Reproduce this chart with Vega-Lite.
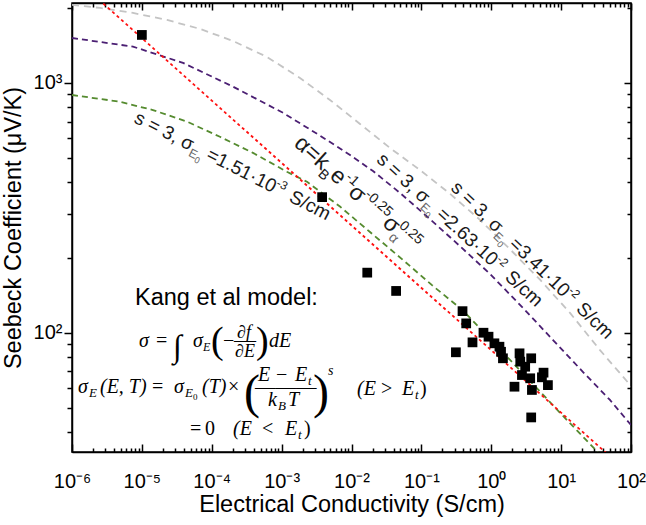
{
  "$schema": "https://vega.github.io/schema/vega-lite/v6.json",
  "width": 559,
  "height": 449,
  "autosize": "none",
  "padding": {"left": 72, "top": 3, "right": 15, "bottom": 73},
  "background": "white",
  "config": {
    "view": {"stroke": "black", "strokeWidth": 1.5},
    "axis": {
      "domainColor": "black", "domainWidth": 1.5, "tickColor": "black", "tickWidth": 1.5,
      "labelFont": "Liberation Sans", "labelFontSize": 20, "labelColor": "black",
      "titleFont": "Liberation Sans", "titleFontSize": 23.5, "titleFontWeight": "normal", "titleColor": "black",
      "grid": false, "labelOverlap": false, "labelFlush": false
    },
    "text": {"font": "Liberation Sans", "color": "black"}
  },
  "datasets": {
    "points": [
      {"sigma": 1.0e-5, "S": 1557}, {"sigma": 0.0038, "S": 349}, {"sigma": 0.0168, "S": 174}, {"sigma": 0.0435, "S": 147},
      {"sigma": 0.388, "S": 122}, {"sigma": 0.438, "S": 109}, {"sigma": 0.539, "S": 91.5}, {"sigma": 0.312, "S": 83.5},
      {"sigma": 0.774, "S": 100}, {"sigma": 0.914, "S": 96.4}, {"sigma": 1.11, "S": 90.7}, {"sigma": 1.31, "S": 87.9},
      {"sigma": 1.38, "S": 83.9}, {"sigma": 1.47, "S": 79.0}, {"sigma": 2.54, "S": 82.7}, {"sigma": 2.60, "S": 76.6},
      {"sigma": 3.73, "S": 79.0}, {"sigma": 3.06, "S": 73.1}, {"sigma": 2.75, "S": 67.7}, {"sigma": 3.61, "S": 65.7},
      {"sigma": 5.60, "S": 69.2}, {"sigma": 5.31, "S": 66.3}, {"sigma": 6.47, "S": 61.7}, {"sigma": 2.15, "S": 60.8},
      {"sigma": 3.82, "S": 59.0}, {"sigma": 3.73, "S": 45.8}
    ],
    "curves": [
      {"curve": "grey", "sigma": 1e-6, "S": 2053}, {"curve": "grey", "sigma": 2.52e-6, "S": 1997}, {"curve": "grey", "sigma": 7.46e-6, "S": 1907},
      {"curve": "grey", "sigma": 2.29e-5, "S": 1788}, {"curve": "grey", "sigma": 6.79e-5, "S": 1646}, {"curve": "grey", "sigma": 2.01e-4, "S": 1473},
      {"curve": "grey", "sigma": 6.18e-4, "S": 1271}, {"curve": "grey", "sigma": 0.00183, "S": 1047}, {"curve": "grey", "sigma": 0.00492, "S": 855},
      {"curve": "grey", "sigma": 0.01324, "S": 685}, {"curve": "grey", "sigma": 0.0356, "S": 549}, {"curve": "grey", "sigma": 0.0955, "S": 448},
      {"curve": "grey", "sigma": 0.248, "S": 363}, {"curve": "grey", "sigma": 0.69, "S": 283}, {"curve": "grey", "sigma": 1.85, "S": 216},
      {"curve": "grey", "sigma": 4.99, "S": 163}, {"curve": "grey", "sigma": 13.4, "S": 120}, {"curve": "grey", "sigma": 36.0, "S": 85.2},
      {"curve": "grey", "sigma": 100, "S": 61.2},
      {"curve": "purple", "sigma": 1e-6, "S": 1514}, {"curve": "purple", "sigma": 7.46e-6, "S": 1398}, {"curve": "purple", "sigma": 3.88e-5, "S": 1203},
      {"curve": "purple", "sigma": 2.01e-4, "S": 967}, {"curve": "purple", "sigma": 0.00105, "S": 759}, {"curve": "purple", "sigma": 0.00343, "S": 619},
      {"curve": "purple", "sigma": 0.00953, "S": 515}, {"curve": "purple", "sigma": 0.0203, "S": 444}, {"curve": "purple", "sigma": 0.0494, "S": 363},
      {"curve": "purple", "sigma": 0.1327, "S": 285}, {"curve": "purple", "sigma": 0.345, "S": 224}, {"curve": "purple", "sigma": 0.959, "S": 172},
      {"curve": "purple", "sigma": 2.85, "S": 125.6}, {"curve": "purple", "sigma": 7.66, "S": 93.5}, {"curve": "purple", "sigma": 20.6, "S": 69.6},
      {"curve": "purple", "sigma": 50.0, "S": 53.8}, {"curve": "purple", "sigma": 100, "S": 42.7},
      {"curve": "green", "sigma": 1e-6, "S": 895}, {"curve": "green", "sigma": 4.86e-6, "S": 841}, {"curve": "green", "sigma": 1.44e-5, "S": 779},
      {"curve": "green", "sigma": 4.43e-5, "S": 700}, {"curve": "green", "sigma": 1.31e-4, "S": 609}, {"curve": "green", "sigma": 3.89e-4, "S": 525},
      {"curve": "green", "sigma": 0.00119, "S": 441}, {"curve": "green", "sigma": 0.00231, "S": 402}, {"curve": "green", "sigma": 0.00445, "S": 350},
      {"curve": "green", "sigma": 0.00684, "S": 320}, {"curve": "green", "sigma": 0.0184, "S": 253}, {"curve": "green", "sigma": 0.0541, "S": 196},
      {"curve": "green", "sigma": 0.142, "S": 155}, {"curve": "green", "sigma": 0.39, "S": 123}, {"curve": "green", "sigma": 1.13, "S": 90.1},
      {"curve": "green", "sigma": 3.59, "S": 64.1}, {"curve": "green", "sigma": 11.4, "S": 45.5}, {"curve": "green", "sigma": 33.4, "S": 33.3},
      {"curve": "red", "sigma": 1e-6, "S": 2690}, {"curve": "red", "sigma": 100, "S": 26.9}
    ],
    "notes": [
      {"id": "L1", "sigma": 7.46e-6, "S": 698},
      {"id": "L2", "sigma": 0.001456, "S": 564},
      {"id": "L3", "sigma": 0.0222, "S": 487},
      {"id": "L4", "sigma": 0.257, "S": 376},
      {"id": "K", "sigma": 7.97e-6, "S": 129}
    ]
  },
  "encoding": {
    "x": {"field": "sigma", "type": "quantitative", "scale": {"type": "log", "domain": [1e-6, 100], "nice": false}, "axis": null},
    "y": {"field": "S", "type": "quantitative", "scale": {"type": "log", "domain": [33.3, 2090], "nice": false}, "axis": null}
  },
  "layer": [
    {
      "data": {"name": "curves"},
      "mark": {"type": "line", "clip": true, "strokeWidth": 1.8},
      "encoding": {
        "color": {"field": "curve", "type": "nominal", "legend": null,
          "scale": {"domain": ["grey", "purple", "green", "red"], "range": ["#c4c4c4", "#4b1f73", "#558b2f", "#ff1010"]}},
        "strokeDash": {"field": "curve", "type": "nominal", "legend": null,
          "scale": {"domain": ["grey", "purple", "green", "red"], "range": [[7, 5], [6, 4], [6, 4], [3, 3]]}}
      }
    },
    {
      "data": {"name": "points"},
      "mark": {"type": "square", "filled": true, "color": "black", "size": 95, "opacity": 1},
      "encoding": {
        "x": {"field": "sigma", "type": "quantitative", "scale": {"type": "log", "domain": [1e-6, 100], "nice": false},
          "axis": {"orient": "bottom", "title": "Electrical Conductivity (S/cm)",
            "values": [1e-6,2e-6,3e-6,4e-6,5e-6,6e-6,7e-6,8e-6,9e-6,1e-5,2e-5,3e-5,4e-5,5e-5,6e-5,7e-5,8e-5,9e-5,1e-4,2e-4,3e-4,4e-4,5e-4,6e-4,7e-4,8e-4,9e-4,0.001,0.002,0.003,0.004,0.005,0.006,0.007,0.008,0.009,0.01,0.02,0.03,0.04,0.05,0.06,0.07,0.08,0.09,0.1,0.2,0.3,0.4,0.5,0.6,0.7,0.8,0.9,1,2,3,4,5,6,7,8,9,10,20,30,40,50,60,70,80,90,100],
            "labelExpr": "abs(log(datum.value)/LN10 - round(log(datum.value)/LN10)) < 0.001 ? '10' + replace(replace(replace(replace(replace(replace(replace(replace(toString(round(log(datum.value)/LN10)), '-', '⁻'), '0', '⁰'), '1', '¹'), '2', '²'), '3', '³'), '4', '⁴'), '5', '⁵'), '6', '⁶') : ''",
            "tickSize": {"condition": {"test": "abs(log(datum.value)/LN10 - round(log(datum.value)/LN10)) < 0.001", "value": -8}, "value": -4},
            "labelBaseline": "alphabetic", "labelPadding": 43,
            "titleY": 59, "titleX": 279.5, "titleBaseline": "alphabetic", "titleAlign": "center"}},
        "y": {"field": "S", "type": "quantitative", "scale": {"type": "log", "domain": [33.3, 2090], "nice": false},
          "axis": {"orient": "left", "title": "Seebeck Coefficient (μV/K)",
            "values": [40,50,60,70,80,90,100,200,300,400,500,600,700,800,900,1000,2000],
            "labelExpr": "abs(log(datum.value)/LN10 - round(log(datum.value)/LN10)) < 0.001 ? '10' + replace(replace(toString(round(log(datum.value)/LN10)), '2', '²'), '3', '³') : ''",
            "tickSize": {"condition": {"test": "abs(log(datum.value)/LN10 - round(log(datum.value)/LN10)) < 0.001", "value": 8}, "value": 5},
            "labelPadding": 2, "labelBaseline": "middle",
            "titleX": -52, "titleY": 224.5, "titleAngle": -90, "titleBaseline": "alphabetic", "titleAlign": "center"}}
      }
    },
    {
      "data": {"name": "points"},
      "mark": {"type": "point", "opacity": 0},
      "encoding": {
        "x": {"field": "sigma", "type": "quantitative", "scale": {"type": "log", "domain": [1e-6, 100], "nice": false},
          "axis": {"orient": "top", "title": null, "labels": false,
            "values": [1e-6,2e-6,3e-6,4e-6,5e-6,6e-6,7e-6,8e-6,9e-6,1e-5,2e-5,3e-5,4e-5,5e-5,6e-5,7e-5,8e-5,9e-5,1e-4,2e-4,3e-4,4e-4,5e-4,6e-4,7e-4,8e-4,9e-4,0.001,0.002,0.003,0.004,0.005,0.006,0.007,0.008,0.009,0.01,0.02,0.03,0.04,0.05,0.06,0.07,0.08,0.09,0.1,0.2,0.3,0.4,0.5,0.6,0.7,0.8,0.9,1,2,3,4,5,6,7,8,9,10,20,30,40,50,60,70,80,90,100],
            "tickSize": {"condition": {"test": "abs(log(datum.value)/LN10 - round(log(datum.value)/LN10)) < 0.001", "value": -7}, "value": -4}}},
        "y": {"field": "S", "type": "quantitative", "scale": {"type": "log", "domain": [33.3, 2090], "nice": false},
          "axis": {"orient": "right", "title": null, "labels": false,
            "values": [40,50,60,70,80,90,100,200,300,400,500,600,700,800,900,1000,2000],
            "tickSize": {"condition": {"test": "abs(log(datum.value)/LN10 - round(log(datum.value)/LN10)) < 0.001", "value": -7}, "value": -4}}}
      }
    },

    {"data": {"name": "notes"}, "transform": [{"filter": "datum.id === 'L1'"}], "mark": {"type": "text", "text": "s = 3, σ", "angle": 27, "align": "left", "baseline": "alphabetic", "fontSize": 19, "color": "#1a1a1a"}},
    {"data": {"name": "notes"}, "transform": [{"filter": "datum.id === 'L1'"}], "mark": {"type": "text", "text": "E", "angle": 27, "align": "left", "baseline": "alphabetic", "fontSize": 12, "dx": 64, "dy": 5, "color": "#666666"}},
    {"data": {"name": "notes"}, "transform": [{"filter": "datum.id === 'L1'"}], "mark": {"type": "text", "text": "0", "angle": 27, "align": "left", "baseline": "alphabetic", "fontSize": 9, "dx": 72, "dy": 8, "color": "#666666"}},
    {"data": {"name": "notes"}, "transform": [{"filter": "datum.id === 'L1'"}], "mark": {"type": "text", "text": "=1.51·10", "angle": 27, "align": "left", "baseline": "alphabetic", "fontSize": 19, "dx": 81, "color": "#1a1a1a"}},
    {"data": {"name": "notes"}, "transform": [{"filter": "datum.id === 'L1'"}], "mark": {"type": "text", "text": "-3", "angle": 27, "align": "left", "baseline": "alphabetic", "fontSize": 12, "dx": 156, "dy": -8, "color": "#1a1a1a"}},
    {"data": {"name": "notes"}, "transform": [{"filter": "datum.id === 'L1'"}], "mark": {"type": "text", "text": "S/cm", "angle": 27, "align": "left", "baseline": "alphabetic", "fontSize": 19, "dx": 174, "color": "#1a1a1a"}},

    {"data": {"name": "notes"}, "transform": [{"filter": "datum.id === 'L2'"}], "mark": {"type": "text", "text": "α=k", "angle": 42, "align": "left", "baseline": "alphabetic", "fontSize": 23, "color": "#1a1a1a"}},
    {"data": {"name": "notes"}, "transform": [{"filter": "datum.id === 'L2'"}], "mark": {"type": "text", "text": "B", "angle": 42, "align": "left", "baseline": "alphabetic", "fontSize": 14, "dx": 38, "dy": 6, "color": "#1a1a1a"}},
    {"data": {"name": "notes"}, "transform": [{"filter": "datum.id === 'L2'"}], "mark": {"type": "text", "text": "e", "angle": 42, "align": "left", "baseline": "alphabetic", "fontSize": 23, "dx": 48, "color": "#1a1a1a"}},
    {"data": {"name": "notes"}, "transform": [{"filter": "datum.id === 'L2'"}], "mark": {"type": "text", "text": "-1", "angle": 42, "align": "left", "baseline": "alphabetic", "fontSize": 14, "dx": 61, "dy": -10, "color": "#1a1a1a"}},
    {"data": {"name": "notes"}, "transform": [{"filter": "datum.id === 'L2'"}], "mark": {"type": "text", "text": "σ", "angle": 42, "align": "left", "baseline": "alphabetic", "fontSize": 23, "dx": 73, "color": "#1a1a1a"}},
    {"data": {"name": "notes"}, "transform": [{"filter": "datum.id === 'L2'"}], "mark": {"type": "text", "text": "-0.25", "angle": 42, "align": "left", "baseline": "alphabetic", "fontSize": 14, "dx": 87, "dy": -10, "color": "#1a1a1a"}},
    {"data": {"name": "notes"}, "transform": [{"filter": "datum.id === 'L2'"}], "mark": {"type": "text", "text": "σ", "angle": 42, "align": "left", "baseline": "alphabetic", "fontSize": 23, "dx": 119, "color": "#1a1a1a"}},
    {"data": {"name": "notes"}, "transform": [{"filter": "datum.id === 'L2'"}], "mark": {"type": "text", "text": "α", "angle": 42, "align": "left", "baseline": "alphabetic", "fontSize": 14, "dx": 133, "dy": 6, "color": "#666666"}},
    {"data": {"name": "notes"}, "transform": [{"filter": "datum.id === 'L2'"}], "mark": {"type": "text", "text": "0.25", "angle": 42, "align": "left", "baseline": "alphabetic", "fontSize": 14, "dx": 133, "dy": -10, "color": "#1a1a1a"}},

    {"data": {"name": "notes"}, "transform": [{"filter": "datum.id === 'L3'"}], "mark": {"type": "text", "text": "s = 3, σ", "angle": 42.5, "align": "left", "baseline": "alphabetic", "fontSize": 19, "color": "#1a1a1a"}},
    {"data": {"name": "notes"}, "transform": [{"filter": "datum.id === 'L3'"}], "mark": {"type": "text", "text": "E", "angle": 42.5, "align": "left", "baseline": "alphabetic", "fontSize": 12, "dx": 64, "dy": 5, "color": "#666666"}},
    {"data": {"name": "notes"}, "transform": [{"filter": "datum.id === 'L3'"}], "mark": {"type": "text", "text": "0", "angle": 42.5, "align": "left", "baseline": "alphabetic", "fontSize": 9, "dx": 72, "dy": 8, "color": "#666666"}},
    {"data": {"name": "notes"}, "transform": [{"filter": "datum.id === 'L3'"}], "mark": {"type": "text", "text": "=2.63·10", "angle": 42.5, "align": "left", "baseline": "alphabetic", "fontSize": 19, "dx": 81, "color": "#1a1a1a"}},
    {"data": {"name": "notes"}, "transform": [{"filter": "datum.id === 'L3'"}], "mark": {"type": "text", "text": "-2", "angle": 42.5, "align": "left", "baseline": "alphabetic", "fontSize": 12, "dx": 156, "dy": -8, "color": "#1a1a1a"}},
    {"data": {"name": "notes"}, "transform": [{"filter": "datum.id === 'L3'"}], "mark": {"type": "text", "text": "S/cm", "angle": 42.5, "align": "left", "baseline": "alphabetic", "fontSize": 19, "dx": 174, "color": "#1a1a1a"}},

    {"data": {"name": "notes"}, "transform": [{"filter": "datum.id === 'L4'"}], "mark": {"type": "text", "text": "s = 3, σ", "angle": 44, "align": "left", "baseline": "alphabetic", "fontSize": 19, "color": "#1a1a1a"}},
    {"data": {"name": "notes"}, "transform": [{"filter": "datum.id === 'L4'"}], "mark": {"type": "text", "text": "E", "angle": 44, "align": "left", "baseline": "alphabetic", "fontSize": 12, "dx": 64, "dy": 5, "color": "#666666"}},
    {"data": {"name": "notes"}, "transform": [{"filter": "datum.id === 'L4'"}], "mark": {"type": "text", "text": "0", "angle": 44, "align": "left", "baseline": "alphabetic", "fontSize": 9, "dx": 72, "dy": 8, "color": "#666666"}},
    {"data": {"name": "notes"}, "transform": [{"filter": "datum.id === 'L4'"}], "mark": {"type": "text", "text": "=3.41·10", "angle": 44, "align": "left", "baseline": "alphabetic", "fontSize": 19, "dx": 81, "color": "#1a1a1a"}},
    {"data": {"name": "notes"}, "transform": [{"filter": "datum.id === 'L4'"}], "mark": {"type": "text", "text": "-2", "angle": 44, "align": "left", "baseline": "alphabetic", "fontSize": 12, "dx": 156, "dy": -8, "color": "#1a1a1a"}},
    {"data": {"name": "notes"}, "transform": [{"filter": "datum.id === 'L4'"}], "mark": {"type": "text", "text": "S/cm", "angle": 44, "align": "left", "baseline": "alphabetic", "fontSize": 19, "dx": 174, "color": "#1a1a1a"}},

    {"data": {"name": "notes"}, "transform": [{"filter": "datum.id === 'K'"}], "mark": {"type": "text", "text": "Kang et al model:", "align": "left", "baseline": "alphabetic", "fontSize": 23.5}},

    {"data": {"name": "notes"}, "transform": [{"filter": "datum.id === 'K'"}], "mark": {"type": "text", "text": "σ", "font": "Liberation Serif", "fontStyle": "italic", "fontSize": 20, "align": "left", "baseline": "alphabetic", "dx": 4, "dy": 42}},
    {"data": {"name": "notes"}, "transform": [{"filter": "datum.id === 'K'"}], "mark": {"type": "text", "text": "=", "font": "Liberation Serif", "fontSize": 20, "align": "left", "baseline": "alphabetic", "dx": 21, "dy": 42}},
    {"data": {"name": "notes"}, "transform": [{"filter": "datum.id === 'K'"}], "mark": {"type": "text", "text": "∫", "font": "Liberation Serif", "fontSize": 32, "align": "left", "baseline": "alphabetic", "dx": 38, "dy": 52}},
    {"data": {"name": "notes"}, "transform": [{"filter": "datum.id === 'K'"}], "mark": {"type": "text", "text": "σ", "font": "Liberation Serif", "fontStyle": "italic", "fontSize": 20, "align": "left", "baseline": "alphabetic", "dx": 58, "dy": 42}},
    {"data": {"name": "notes"}, "transform": [{"filter": "datum.id === 'K'"}], "mark": {"type": "text", "text": "E", "font": "Liberation Serif", "fontStyle": "italic", "fontSize": 12, "align": "left", "baseline": "alphabetic", "dx": 68, "dy": 46}},
    {"data": {"name": "notes"}, "transform": [{"filter": "datum.id === 'K'"}], "mark": {"type": "text", "text": "(", "font": "Liberation Serif", "fontSize": 38, "align": "left", "baseline": "alphabetic", "dx": 76, "dy": 48}},
    {"data": {"name": "notes"}, "transform": [{"filter": "datum.id === 'K'"}], "mark": {"type": "text", "text": "−", "font": "Liberation Serif", "fontSize": 20, "align": "left", "baseline": "alphabetic", "dx": 88, "dy": 42}},
    {"data": {"name": "notes"}, "transform": [{"filter": "datum.id === 'K'"}], "mark": {"type": "text", "text": "∂f", "font": "Liberation Serif", "fontStyle": "italic", "fontSize": 18, "align": "left", "baseline": "alphabetic", "dx": 102, "dy": 33}},
    {"data": {"name": "notes"}, "transform": [{"filter": "datum.id === 'K'"}], "mark": {"type": "text", "text": "—", "font": "Liberation Serif", "fontSize": 22, "align": "left", "baseline": "alphabetic", "dx": 99, "dy": 42}},
    {"data": {"name": "notes"}, "transform": [{"filter": "datum.id === 'K'"}], "mark": {"type": "text", "text": "∂E", "font": "Liberation Serif", "fontStyle": "italic", "fontSize": 18, "align": "left", "baseline": "alphabetic", "dx": 100, "dy": 52}},
    {"data": {"name": "notes"}, "transform": [{"filter": "datum.id === 'K'"}], "mark": {"type": "text", "text": ")", "font": "Liberation Serif", "fontSize": 38, "align": "left", "baseline": "alphabetic", "dx": 121, "dy": 48}},
    {"data": {"name": "notes"}, "transform": [{"filter": "datum.id === 'K'"}], "mark": {"type": "text", "text": "dE", "font": "Liberation Serif", "fontStyle": "italic", "fontSize": 20, "align": "left", "baseline": "alphabetic", "dx": 134, "dy": 42}},

    {"data": {"name": "notes"}, "transform": [{"filter": "datum.id === 'K'"}], "mark": {"type": "text", "text": "σ", "font": "Liberation Serif", "fontStyle": "italic", "fontSize": 20, "align": "left", "baseline": "alphabetic", "dx": -57, "dy": 88}},
    {"data": {"name": "notes"}, "transform": [{"filter": "datum.id === 'K'"}], "mark": {"type": "text", "text": "E", "font": "Liberation Serif", "fontStyle": "italic", "fontSize": 13, "align": "left", "baseline": "alphabetic", "dx": -46, "dy": 92}},
    {"data": {"name": "notes"}, "transform": [{"filter": "datum.id === 'K'"}], "mark": {"type": "text", "text": "(E, T)", "font": "Liberation Serif", "fontStyle": "italic", "fontSize": 20, "align": "left", "baseline": "alphabetic", "dx": -35, "dy": 88}},
    {"data": {"name": "notes"}, "transform": [{"filter": "datum.id === 'K'"}], "mark": {"type": "text", "text": "=", "font": "Liberation Serif", "fontSize": 20, "align": "left", "baseline": "alphabetic", "dx": 17, "dy": 88}},
    {"data": {"name": "notes"}, "transform": [{"filter": "datum.id === 'K'"}], "mark": {"type": "text", "text": "σ", "font": "Liberation Serif", "fontStyle": "italic", "fontSize": 20, "align": "left", "baseline": "alphabetic", "dx": 39, "dy": 88}},
    {"data": {"name": "notes"}, "transform": [{"filter": "datum.id === 'K'"}], "mark": {"type": "text", "text": "E", "font": "Liberation Serif", "fontStyle": "italic", "fontSize": 13, "align": "left", "baseline": "alphabetic", "dx": 50, "dy": 92}},
    {"data": {"name": "notes"}, "transform": [{"filter": "datum.id === 'K'"}], "mark": {"type": "text", "text": "0", "font": "Liberation Serif", "fontSize": 9, "align": "left", "baseline": "alphabetic", "dx": 58, "dy": 95}},
    {"data": {"name": "notes"}, "transform": [{"filter": "datum.id === 'K'"}], "mark": {"type": "text", "text": "(T)", "font": "Liberation Serif", "fontStyle": "italic", "fontSize": 20, "align": "left", "baseline": "alphabetic", "dx": 67, "dy": 88}},
    {"data": {"name": "notes"}, "transform": [{"filter": "datum.id === 'K'"}], "mark": {"type": "text", "text": "×", "font": "Liberation Serif", "fontSize": 20, "align": "left", "baseline": "alphabetic", "dx": 93, "dy": 88}},
    {"data": {"name": "notes"}, "transform": [{"filter": "datum.id === 'K'"}], "mark": {"type": "text", "text": "(", "font": "Liberation Serif", "fontSize": 48, "align": "left", "baseline": "alphabetic", "dx": 109, "dy": 103}},
    {"data": {"name": "notes"}, "transform": [{"filter": "datum.id === 'K'"}], "mark": {"type": "text", "text": "E", "font": "Liberation Serif", "fontStyle": "italic", "fontSize": 20, "align": "left", "baseline": "alphabetic", "dx": 123, "dy": 76}},
    {"data": {"name": "notes"}, "transform": [{"filter": "datum.id === 'K'"}], "mark": {"type": "text", "text": "−", "font": "Liberation Serif", "fontSize": 20, "align": "left", "baseline": "alphabetic", "dx": 141, "dy": 76}},
    {"data": {"name": "notes"}, "transform": [{"filter": "datum.id === 'K'"}], "mark": {"type": "text", "text": "E", "font": "Liberation Serif", "fontStyle": "italic", "fontSize": 20, "align": "left", "baseline": "alphabetic", "dx": 160, "dy": 76}},
    {"data": {"name": "notes"}, "transform": [{"filter": "datum.id === 'K'"}], "mark": {"type": "text", "text": "t", "font": "Liberation Serif", "fontStyle": "italic", "fontSize": 13, "align": "left", "baseline": "alphabetic", "dx": 173, "dy": 80}},
    {"data": {"name": "notes"}, "transform": [{"filter": "datum.id === 'K'"}], "mark": {"type": "text", "text": "———", "font": "Liberation Serif", "fontSize": 20.5, "align": "left", "baseline": "alphabetic", "dx": 120, "dy": 89}},
    {"data": {"name": "notes"}, "transform": [{"filter": "datum.id === 'K'"}], "mark": {"type": "text", "text": "k", "font": "Liberation Serif", "fontStyle": "italic", "fontSize": 20, "align": "left", "baseline": "alphabetic", "dx": 133, "dy": 101}},
    {"data": {"name": "notes"}, "transform": [{"filter": "datum.id === 'K'"}], "mark": {"type": "text", "text": "B", "font": "Liberation Serif", "fontStyle": "italic", "fontSize": 13, "align": "left", "baseline": "alphabetic", "dx": 143, "dy": 105}},
    {"data": {"name": "notes"}, "transform": [{"filter": "datum.id === 'K'"}], "mark": {"type": "text", "text": "T", "font": "Liberation Serif", "fontStyle": "italic", "fontSize": 20, "align": "left", "baseline": "alphabetic", "dx": 153, "dy": 101}},
    {"data": {"name": "notes"}, "transform": [{"filter": "datum.id === 'K'"}], "mark": {"type": "text", "text": ")", "font": "Liberation Serif", "fontSize": 48, "align": "left", "baseline": "alphabetic", "dx": 178, "dy": 103}},
    {"data": {"name": "notes"}, "transform": [{"filter": "datum.id === 'K'"}], "mark": {"type": "text", "text": "s", "font": "Liberation Serif", "fontStyle": "italic", "fontSize": 14, "align": "left", "baseline": "alphabetic", "dx": 193, "dy": 70}},
    {"data": {"name": "notes"}, "transform": [{"filter": "datum.id === 'K'"}], "mark": {"type": "text", "text": "(E", "font": "Liberation Serif", "fontStyle": "italic", "fontSize": 20, "align": "left", "baseline": "alphabetic", "dx": 222, "dy": 90}},
    {"data": {"name": "notes"}, "transform": [{"filter": "datum.id === 'K'"}], "mark": {"type": "text", "text": ">", "font": "Liberation Serif", "fontSize": 20, "align": "left", "baseline": "alphabetic", "dx": 246, "dy": 90}},
    {"data": {"name": "notes"}, "transform": [{"filter": "datum.id === 'K'"}], "mark": {"type": "text", "text": "E", "font": "Liberation Serif", "fontStyle": "italic", "fontSize": 20, "align": "left", "baseline": "alphabetic", "dx": 267, "dy": 90}},
    {"data": {"name": "notes"}, "transform": [{"filter": "datum.id === 'K'"}], "mark": {"type": "text", "text": "t", "font": "Liberation Serif", "fontStyle": "italic", "fontSize": 13, "align": "left", "baseline": "alphabetic", "dx": 280, "dy": 94}},
    {"data": {"name": "notes"}, "transform": [{"filter": "datum.id === 'K'"}], "mark": {"type": "text", "text": ")", "font": "Liberation Serif", "fontSize": 20, "align": "left", "baseline": "alphabetic", "dx": 285, "dy": 90}},

    {"data": {"name": "notes"}, "transform": [{"filter": "datum.id === 'K'"}], "mark": {"type": "text", "text": "=", "font": "Liberation Serif", "fontSize": 20, "align": "left", "baseline": "alphabetic", "dx": 55, "dy": 130}},
    {"data": {"name": "notes"}, "transform": [{"filter": "datum.id === 'K'"}], "mark": {"type": "text", "text": "0", "font": "Liberation Serif", "fontSize": 20, "align": "left", "baseline": "alphabetic", "dx": 70, "dy": 130}},
    {"data": {"name": "notes"}, "transform": [{"filter": "datum.id === 'K'"}], "mark": {"type": "text", "text": "(E", "font": "Liberation Serif", "fontStyle": "italic", "fontSize": 20, "align": "left", "baseline": "alphabetic", "dx": 98, "dy": 130}},
    {"data": {"name": "notes"}, "transform": [{"filter": "datum.id === 'K'"}], "mark": {"type": "text", "text": "<", "font": "Liberation Serif", "fontSize": 20, "align": "left", "baseline": "alphabetic", "dx": 127, "dy": 130}},
    {"data": {"name": "notes"}, "transform": [{"filter": "datum.id === 'K'"}], "mark": {"type": "text", "text": "E", "font": "Liberation Serif", "fontStyle": "italic", "fontSize": 20, "align": "left", "baseline": "alphabetic", "dx": 150, "dy": 130}},
    {"data": {"name": "notes"}, "transform": [{"filter": "datum.id === 'K'"}], "mark": {"type": "text", "text": "t", "font": "Liberation Serif", "fontStyle": "italic", "fontSize": 13, "align": "left", "baseline": "alphabetic", "dx": 163, "dy": 134}},
    {"data": {"name": "notes"}, "transform": [{"filter": "datum.id === 'K'"}], "mark": {"type": "text", "text": ")", "font": "Liberation Serif", "fontSize": 20, "align": "left", "baseline": "alphabetic", "dx": 169, "dy": 130}}
  ]
}
